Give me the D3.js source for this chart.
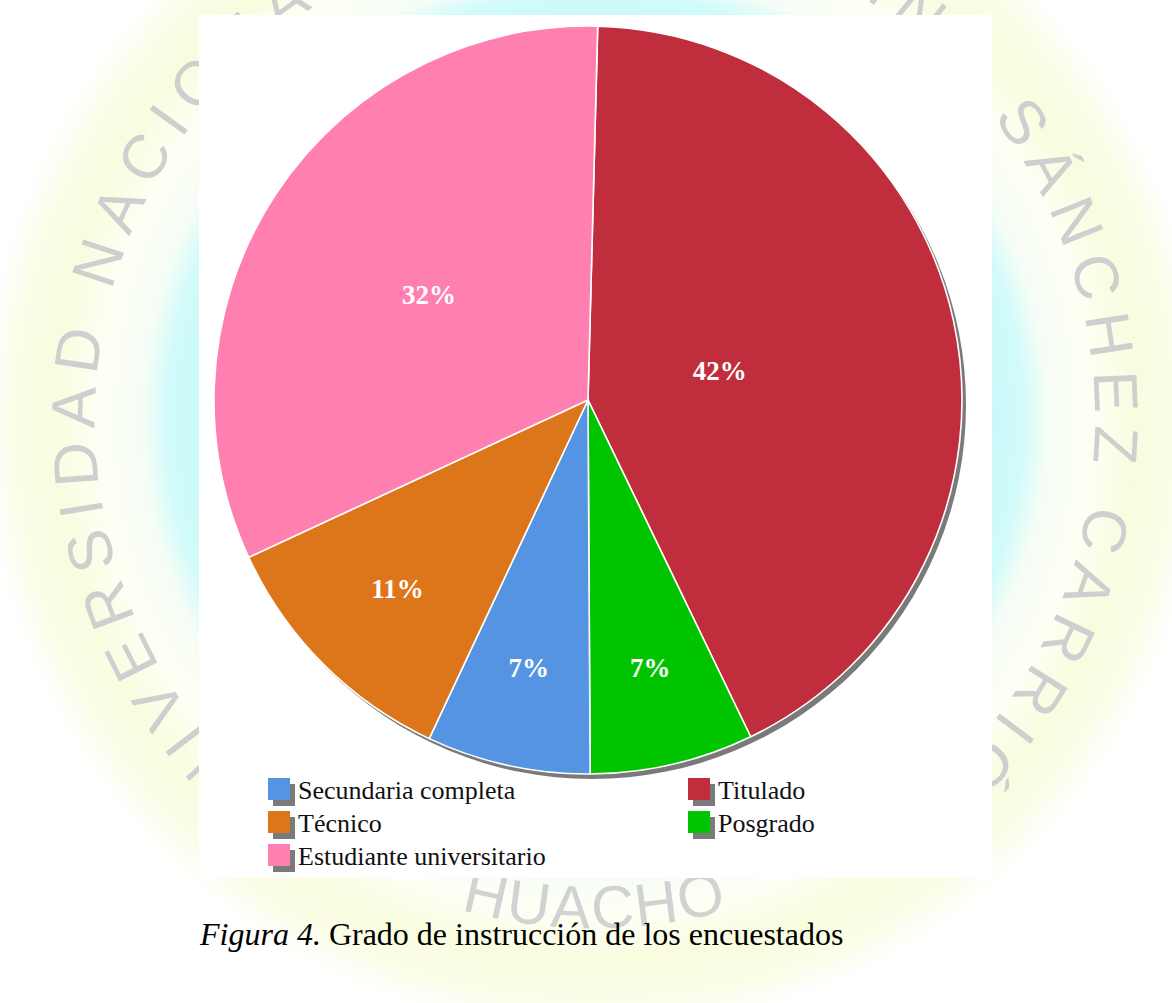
<!DOCTYPE html>
<html>
<head>
<meta charset="utf-8">
<script src="https://cdn.jsdelivr.net/npm/d3@7"></script>
<style>
html, body { margin: 0; padding: 0; background: #fff; }
svg { display: block; }
</style>
</head>
<body>
<script>
'use strict';

// Slices, clockwise from the top
var categories = ['Titulado', 'Posgrado', 'Secundaria completa', 'Técnico', 'Estudiante universitario'];
var values = [42, 7, 7, 11, 32];
var colors = ['#c02e3d', '#00c400', '#5494e2', '#dd761a', '#ff80b0'];

// Legend reads column by column
var legendOrder = ['Secundaria completa', 'Técnico', 'Estudiante universitario', 'Titulado', 'Posgrado'];

var captionLead = 'Figura 4.';
var captionText = ' Grado de instrucción de los encuestados';

// Watermark of the page behind the chart
var sealText = 'UNIVERSIDAD NACIONAL JOSÉ FAUSTINO SÁNCHEZ CARRIÓN';
var cityText = 'HUACHO';

var width = 1172;
var height = 1003;

var data = categories.map(function(c, i) {
	return {name: c, value: values[i], color: colors[i]};
});
var colorOf = {};
data.forEach(function(d) { colorOf[d.name] = d.color; });

var svg = d3.select('body').append('svg')
	.attr('width', width)
	.attr('height', height);

// Seal watermark
var seal = {x: 595, y: 420};
var defs = svg.append('defs');
var grad = defs.append('radialGradient')
	.attr('id', 'seal')
	.attr('gradientUnits', 'userSpaceOnUse')
	.attr('cx', seal.x).attr('cy', seal.y).attr('r', 620);
[
	[0, '#ffffff'], [0.6, '#ffffff'], [0.64, '#c9f9fa'], [0.69, '#d2fbfa'],
	[0.73, '#f6fdf6'], [0.8, '#fefff4'], [0.87, '#f9fcdf'], [0.93, '#fbfde6'], [0.99, '#ffffff']
].forEach(function(s) {
	grad.append('stop').attr('offset', s[0]).attr('stop-color', s[1]);
});
svg.append('rect')
	.attr('width', width)
	.attr('height', height)
	.attr('fill', 'url(#seal)');

var rs = 500;
defs.append('path')
	.attr('id', 'sealPath')
	.attr('d', 'M' + seal.x + ',' + (seal.y + rs) +
		' A' + rs + ',' + rs + ' 0 1 1 ' + seal.x + ',' + (seal.y - rs) +
		' A' + rs + ',' + rs + ' 0 1 1 ' + seal.x + ',' + (seal.y + rs));
var rc = 508, a = 0.55;
defs.append('path')
	.attr('id', 'cityPath')
	.attr('d', 'M' + (seal.x - rc * Math.sin(a)) + ',' + (seal.y + rc * Math.cos(a)) +
		' A' + rc + ',' + rc + ' 0 0 0 ' + (seal.x + rc * Math.sin(a)) + ',' + (seal.y + rc * Math.cos(a)));

svg.append('text')
	.attr('font-family', 'Liberation Sans, Arial, sans-serif')
	.attr('font-size', 62)
	.attr('letter-spacing', 12)
	.attr('fill', '#cfcfcf')
	.append('textPath')
		.attr('href', '#sealPath')
		.attr('startOffset', '50%')
		.attr('text-anchor', 'middle')
		.text(sealText);
svg.append('text')
	.attr('font-family', 'Liberation Sans, Arial, sans-serif')
	.attr('font-size', 60)
	.attr('letter-spacing', 2)
	.attr('fill', '#d2d2d2')
	.append('textPath')
		.attr('href', '#cityPath')
		.attr('startOffset', '50%')
		.attr('text-anchor', 'middle')
		.text(cityText);

// White chart area
svg.append('rect')
	.attr('x', 199).attr('y', 15)
	.attr('width', 793).attr('height', 863)
	.attr('fill', '#fff');

// Pie
var center = {x: 588, y: 400};
var radius = 374;
var start = 0.026;

var pie = d3.pie()
	.sort(null)
	.value(function(d) { return d.value; })
	.startAngle(start)
	.endAngle(start + 2 * Math.PI);
var arc = d3.arc()
	.innerRadius(0)
	.outerRadius(radius);

var view = svg.append('g')
	.attr('transform', 'translate(' + center.x + ',' + center.y + ')');

view.append('circle')
	.attr('cx', 4).attr('cy', 5)
	.attr('r', radius)
	.attr('fill', '#7a7a7a');

var slices = pie(data);

view.selectAll('.slice')
	.data(slices)
	.enter().append('path')
		.attr('class', 'slice')
		.attr('d', arc)
		.attr('fill', function(d) { return d.data.color; })
		.attr('stroke', '#fff')
		.attr('stroke-width', 1.6)
		.attr('stroke-linejoin', 'round');

// Wide slices carry their label nearer the centre
function labelPos(d) {
	var mid = (d.startAngle + d.endAngle) / 2;
	var half = (d.endAngle - d.startAngle) / 2;
	var r = radius * (0.24 + 0.51 * Math.cos(half));
	return [r * Math.sin(mid), -r * Math.cos(mid)];
}

view.selectAll('.label')
	.data(slices)
	.enter().append('text')
		.attr('class', 'label')
		.attr('x', function(d) { return labelPos(d)[0]; })
		.attr('y', function(d) { return labelPos(d)[1]; })
		.attr('dy', '0.3em')
		.attr('text-anchor', 'middle')
		.attr('font-family', 'Liberation Serif, Times New Roman, serif')
		.attr('font-weight', 'bold')
		.attr('font-size', 27)
		.attr('fill', '#fff')
		.text(function(d) { return d.data.value + '%'; });

// Legend
var legend = svg.append('g')
	.attr('font-family', 'Liberation Serif, Times New Roman, serif')
	.attr('font-size', 26)
	.attr('fill', '#111');

var item = legend.selectAll('.item')
	.data(legendOrder)
	.enter().append('g')
		.attr('class', 'item')
		.attr('transform', function(d, i) {
			var col = i < 3 ? 0 : 1;
			var row = i < 3 ? i : i - 3;
			return 'translate(' + (268 + col * 420) + ',' + (778 + row * 33) + ')';
		});
item.append('rect')
	.attr('x', 5).attr('y', 6)
	.attr('width', 22).attr('height', 22)
	.attr('fill', '#7a7a7a');
item.append('rect')
	.attr('width', 22).attr('height', 22)
	.attr('fill', function(d) { return colorOf[d]; });
item.append('text')
	.attr('x', 30)
	.attr('y', 21)
	.text(function(d) { return d; });

// Caption
var caption = svg.append('text')
	.attr('x', 200)
	.attr('y', 945)
	.attr('font-family', 'Liberation Serif, Times New Roman, serif')
	.attr('font-size', 32)
	.attr('fill', '#000');
caption.append('tspan')
	.attr('font-style', 'italic')
	.text(captionLead);
caption.append('tspan')
	.text(captionText);
</script>
</body>
</html>
